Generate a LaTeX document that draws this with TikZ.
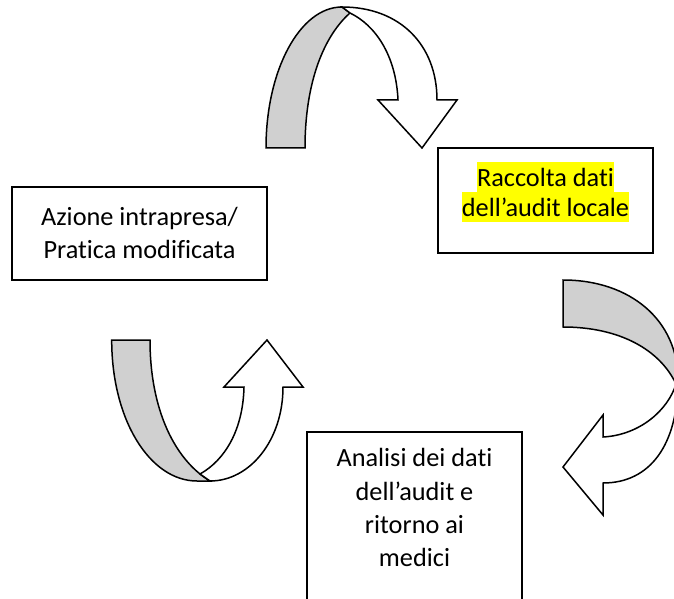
\documentclass[tikz,border=0pt]{standalone}
\usepackage{fontspec}
\setmainfont{Carlito}[Ligatures=NoCommon]
\definecolor{grigioFascia}{RGB}{208,208,208}
\definecolor{gialloEvidenziatore}{RGB}{255,255,0}
\tikzstyle{riquadro} = [rectangle, draw=black, line width=1.8pt, inner sep=0pt, align=flush center, font=\fontsize{26.3}{33.3}\selectfont]
\tikzstyle{fasciaDietro} = [draw=black, fill=grigioFascia, line width=1.5pt]
\tikzstyle{fasciaDavanti} = [draw=black, fill=white, line width=1.5pt]
\newcommand{\evidenzia}[1]{{\setlength{\fboxsep}{0pt}\colorbox{gialloEvidenziatore}{\rule[-6pt]{0pt}{30pt}#1}}}

\begin{document}
\begin{tikzpicture}[x=1pt, y=1pt, node distance=200pt]
	\useasboundingbox (0,0) rectangle (674,598);

	% Definizione dei nodi (riquadri)
	\node (azione) [riquadro, text width=255pt, text height=38pt, text depth=55pt] at (139.5,364.5) {Azione intrapresa/\\Pratica modificata};
	\node (raccolta) [riquadro, right of=azione, xshift=206pt, yshift=33pt, text width=215pt, text height=38.5pt, text depth=66.5pt, font=\fontsize{26.3}{30}\selectfont] {\evidenzia{Raccolta dati}\\\evidenzia{dell’audit locale}};
	\node (analisi) [riquadro, below of=azione, xshift=275pt, yshift=-91.5pt, text width=215pt, text height=34.7pt, text depth=151.3pt] {Analisi dei dati\\dell’audit e\\ritorno ai\\medici};

	% Freccia curva in alto (verso la raccolta)
	\draw [fasciaDietro] (266,450) -- (305,450) .. controls (305,518) and (325,563) .. (350,585) -- (342,591) .. controls (300,591) and (266,528) .. (266,450) -- cycle;
	\draw [fasciaDavanti] (342,591) .. controls (400,591) and (437,553) .. (437,498) -- (457,498) -- (422,450) -- (378,498) -- (398,498) .. controls (396,543) and (375,573) .. (350,585) -- cycle;

	% Freccia curva a destra (verso l'analisi)
	\draw [fasciaDietro] (563,318) .. controls (630,318) and (678,278) .. (678,218) -- (676,214) .. controls (660,248) and (620,271) .. (563,271) -- cycle;
	\draw [fasciaDavanti] (678,218) .. controls (678,153) and (650,115) .. (603,115) -- (603,83) -- (563,131) -- (603,183) -- (603,161) .. controls (640,163) and (668,188) .. (676,214) -- cycle;

	% Freccia curva in basso (verso l'azione)
	\draw [fasciaDietro] (111.7,258) -- (150,258) .. controls (150,188) and (175,138) .. (210,117) -- (197,117) .. controls (150,117) and (111.7,178) .. (111.7,258) -- cycle;
	\draw [fasciaDavanti] (210,117) .. controls (250,117) and (283,158) .. (283,211) -- (303,211) -- (267,258) -- (224,211) -- (244,211) .. controls (243,168) and (225,138) .. (200,124) -- cycle;

\end{tikzpicture}
\end{document}
